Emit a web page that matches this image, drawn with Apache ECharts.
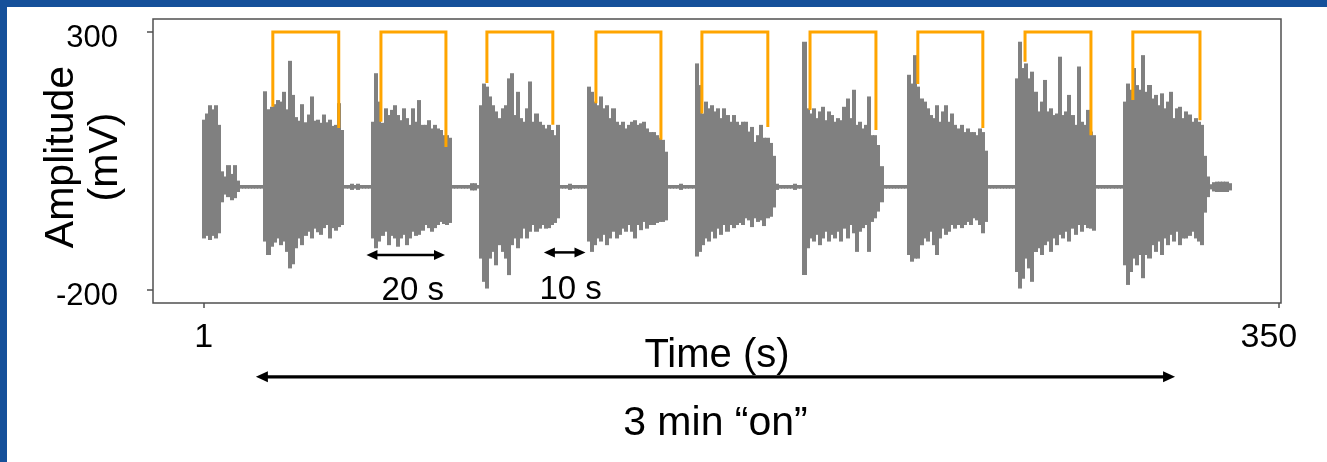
<!DOCTYPE html>
<html><head><meta charset="utf-8">
<script src="https://cdn.jsdelivr.net/npm/echarts@6/dist/echarts.min.js"></script>
<style>
html,body{margin:0;padding:0;width:1327px;height:462px;overflow:hidden;background:#15509a;}
#panel{position:absolute;left:7px;top:7px;width:1320px;height:455px;background:#fff;}
#chart{position:absolute;left:0;top:0;width:1327px;height:462px;}
</style></head><body><div id="panel"></div><div id="chart"></div>
<script>
// ---------------- DATA ----------------
const xTickValues = [1, 350];
const yTickValues = [-200, 300];

// time (s) of the first 1-s sample of each burst
const burstStart = [1, 21, 56, 91, 126, 161, 196, 230, 265, 300, 327];

const burst0High = [130, 142, 158, 150, 158, 120, 30, 20, 42, 25, 42, 12];
const burst0Low  = [-100, -95, -103, -95, -100, -90, -30, -15, -20, -26, -22, -10];

const burst1High = [185,150,155,160,168,165,184,150,244,178,135,128,160,125,140,175,128,130,124,140,125,130,118,120,162,110];
const burst1Low  = [-106,-132,-116,-108,-100,-113,-106,-126,-158,-150,-119,-100,-113,-95,-87,-100,-81,-88,-93,-80,-74,-100,-80,-85,-78,-74];

const burst2High = [126,220,165,124,152,139,149,158,139,129,152,133,120,152,126,168,120,120,129,113,120,113,110,100,100,95];
const burst2Low  = [-100,-119,-106,-95,-87,-113,-95,-100,-116,-100,-93,-113,-100,-87,-95,-93,-85,-74,-80,-87,-80,-74,-68,-72,-74,-70];

const burst3High = [158,200,194,175,158,146,133,152,158,210,220,139,184,133,126,152,204,126,142,126,120,113,120,110,100,120];
const burst3Low  = [-139,-184,-197,-139,-126,-152,-113,-126,-139,-171,-113,-100,-119,-100,-81,-100,-87,-74,-87,-81,-74,-81,-80,-74,-70,-61];

const burst4High = [194,184,165,158,175,152,158,133,152,126,120,126,113,120,126,129,120,123,126,113,106,106,100,95,91,68];
const burst4Low  = [-106,-126,-113,-100,-106,-93,-113,-100,-87,-100,-93,-81,-87,-74,-87,-100,-74,-84,-68,-81,-74,-74,-70,-68,-68,-65];

const burst5High = [239,197,142,165,152,158,146,152,133,152,139,126,139,126,120,126,126,107,116,87,100,120,95,95,85,60];
const burst5Low  = [-135,-126,-113,-100,-106,-87,-100,-81,-93,-74,-87,-74,-80,-74,-70,-74,-61,-65,-78,-61,-68,-65,-76,-61,-58,-40];

const burst6High = [281,152,142,152,133,146,155,129,146,139,126,133,129,155,171,133,188,120,126,113,120,175,100,100,81,40];
const burst6Low  = [-171,-119,-100,-106,-93,-113,-100,-87,-106,-93,-100,-87,-106,-81,-100,-74,-90,-126,-87,-80,-74,-126,-68,-61,-48,-30];

const burst7High = [217,200,255,194,171,165,152,139,133,158,126,146,158,126,142,120,113,120,106,113,106,106,100,113,106,70];
const burst7Low  = [-132,-145,-139,-139,-113,-100,-106,-87,-113,-132,-100,-81,-93,-87,-74,-81,-74,-80,-74,-68,-74,-61,-65,-74,-90,-68];

const burst8High = [210,281,230,239,210,223,184,146,165,207,146,152,139,142,252,139,146,178,139,120,233,126,120,149,107,100];
const burst8Low  = [-165,-197,-178,-139,-158,-184,-126,-119,-132,-113,-106,-126,-100,-113,-93,-100,-87,-106,-81,-93,-74,-87,-74,-80,-81,-85];

const burst9High = [165,200,188,230,197,188,255,184,197,171,178,158,181,152,165,184,133,152,155,133,146,140,126,133,126,120,60];
const burst9Low  = [-152,-190,-165,-139,-152,-132,-177,-132,-139,-113,-126,-106,-132,-100,-113,-93,-106,-87,-113,-100,-100,-95,-87,-100,-106,-113,-50];

const tailHigh = [20, 5, 9, 10, 10, 10, 10, 7];
const tailLow  = [-20, -5, -9, -10, -10, -10, -10, -7];

// flat baseline between bursts, and its small blips
const signalFirst = 1, signalLast = 334;
const baseHalf = 3.5;
const blipTime = [49, 51, 88, 89, 120, 156, 187, 193];
const blipHalf = [6, 6, 7, 7, 6, 6, 6, 6];

// orange stimulus brackets
const bracketStart = [23.4, 58.5, 92.9, 128.3, 162.7, 197.8, 232.8, 267.6, 302.6];
const bracketEnd   = [44.8, 79.6, 114.3, 149.4, 184.1, 219.2, 253.9, 289.0, 324.4];
const bracketStartLevel = [155, 126, 201, 162, 142, 149, 199, 242, 168];
const bracketEndLevel   = [114, 77, 120, 91, 116, 110, 114, 100, 129];
const bracketTop = 300;

// duration arrows
const arrowFrom  = [53.8, 111.4, 17.9];
const arrowTo    = [79.3, 124.9, 316.3];
const arrowLevel = [-132, -127, -368];
const arrowLabels = ['20 s', '10 s', '3 min \u201Con\u201D'];

// ---------------- build ----------------
const burstHighs = [burst0High, burst1High, burst2High, burst3High, burst4High, burst5High, burst6High, burst7High, burst8High, burst9High, tailHigh];
const burstLows  = [burst0Low, burst1Low, burst2Low, burst3Low, burst4Low, burst5Low, burst6Low, burst7Low, burst8Low, burst9Low, tailLow];

const signal = [];
for (let t = signalFirst; t <= signalLast; t++) signal.push([t, -baseHalf, baseHalf]);
blipTime.forEach((t, i) => { signal[t - signalFirst] = [t, -blipHalf[i], blipHalf[i]]; });
burstHighs.forEach((arr, k) => {
  arr.forEach((h, j) => {
    const t = burstStart[k] + j;
    signal[t - signalFirst] = [t, burstLows[k][j], h];
  });
});

const brackets = bracketStart.map((s, i) => [s, bracketEnd[i], bracketStartLevel[i], bracketEndLevel[i]]);
const arrows = arrowFrom.map((s, i) => [s, arrowTo[i], arrowLevel[i]]);

// ---------------- style ----------------
const FONT = "'Liberation Sans', Arial, Helvetica, sans-serif";
const arrowStyle = {
  lineWidth: [2.5, 2.5, 3.2],
  headLen: [11, 11, 12],
  headHalf: [5, 5, 5.5],
  labelDx: [7, 6, 0],
  labelDy: [35.5, 38, 46.5],
  labelSize: [33, 33, 41]
};

const chart = echarts.init(document.getElementById('chart'), null, { renderer: 'canvas' });

const option = {
  animation: false,
  backgroundColor: 'transparent',
  grid: {
    left: 153, right: 46, top: 19, bottom: 159,
    show: true, borderColor: '#505050', borderWidth: 1.5,
    backgroundColor: 'transparent', outerBoundsMode: 'none'
  },
  xAxis: {
    type: 'value', min: -15.5, max: 350.7,
    name: 'Time (s)', nameLocation: 'middle', nameGap: 33, nameMoveOverlap: false,
    nameTextStyle: { fontSize: 40, fontFamily: FONT, color: '#000' },
    axisLine: { show: false, onZero: false },
    splitLine: { show: false },
    axisTick: { show: true, customValues: xTickValues, length: 5, lineStyle: { color: '#505050', width: 1.5 } },
    axisLabel: {
      customValues: xTickValues, margin: 18, fontSize: 34, fontFamily: FONT, color: '#000',
      formatter: v => (v === 350 ? '{r|350}' : '{n|' + v + '}'),
      rich: {
        r: { fontSize: 34, fontFamily: FONT, color: '#000', padding: [0, 20, 0, 0] },
        n: { fontSize: 34, fontFamily: FONT, color: '#000' }
      }
    }
  },
  yAxis: {
    type: 'value', min: -225, max: 325,
    name: 'Amplitude\n(mV)', nameLocation: 'middle', nameRotate: 90, nameGap: 25, nameMoveOverlap: false,
    nameTextStyle: { fontSize: 41, lineHeight: 44, fontFamily: FONT, color: '#000', padding: [0, 0, 0, 8] },
    axisLine: { show: false, onZero: false },
    splitLine: { show: false },
    axisTick: { show: true, customValues: yTickValues, length: 6, lineStyle: { color: '#505050', width: 1.5 } },
    axisLabel: {
      customValues: yTickValues, margin: 35, fontSize: 31, fontFamily: FONT, color: '#000',
      formatter: v => '{p|' + v + '}',
      rich: { p: { fontSize: 31, fontFamily: FONT, color: '#000', padding: [13, 0, 0, 0] } }
    }
  },
  series: [
    {
      type: 'custom', name: 'signal', silent: true, z: 2,
      data: signal, encode: { x: 0, y: [1, 2] },
      renderItem(params, api) {
        const t = api.value(0), lo = api.value(1), hi = api.value(2);
        const a = api.coord([t - 0.5, hi]);
        const b = api.coord([t + 0.5, lo]);
        const x0 = Math.floor(a[0]), x1 = Math.ceil(b[0]);
        return {
          type: 'rect',
          shape: { x: x0, y: a[1], width: x1 - x0, height: b[1] - a[1] },
          style: { fill: '#808080' }
        };
      }
    },
    {
      type: 'custom', name: 'stimulus', silent: true, z: 3,
      data: brackets, encode: { x: [0, 1], y: [2, 3] },
      renderItem(params, api) {
        const s = api.value(0), e = api.value(1), ls = api.value(2), le = api.value(3);
        return {
          type: 'polyline',
          shape: { points: [api.coord([s, ls]), api.coord([s, bracketTop]), api.coord([e, bracketTop]), api.coord([e, le])] },
          style: { stroke: '#FFA500', lineWidth: 3, fill: 'none', lineJoin: 'miter' }
        };
      }
    },
    {
      type: 'custom', name: 'arrows', silent: true, z: 4, clip: false,
      data: arrows, encode: { x: [0, 1], y: 2 },
      renderItem(params, api) {
        const i = params.dataIndex;
        const a = api.coord([api.value(0), api.value(2)]);
        const b = api.coord([api.value(1), api.value(2)]);
        const y = a[1];
        const hl = arrowStyle.headLen[i], hw = arrowStyle.headHalf[i];
        return {
          type: 'group',
          children: [
            { type: 'line', shape: { x1: a[0] + hl * 0.7, y1: y, x2: b[0] - hl * 0.7, y2: y },
              style: { stroke: '#000', lineWidth: arrowStyle.lineWidth[i] } },
            { type: 'polygon', shape: { points: [[a[0], y], [a[0] + hl, y - hw], [a[0] + hl, y + hw]] }, style: { fill: '#000' } },
            { type: 'polygon', shape: { points: [[b[0], y], [b[0] - hl, y - hw], [b[0] - hl, y + hw]] }, style: { fill: '#000' } },
            { type: 'text', x: (a[0] + b[0]) / 2 + arrowStyle.labelDx[i], y: y + arrowStyle.labelDy[i],
              style: { text: arrowLabels[i], fontSize: arrowStyle.labelSize[i], fontFamily: FONT, fill: '#000',
                       align: 'center', verticalAlign: 'middle' } }
          ]
        };
      }
    }
  ]
};
chart.setOption(option);
</script></body></html>
